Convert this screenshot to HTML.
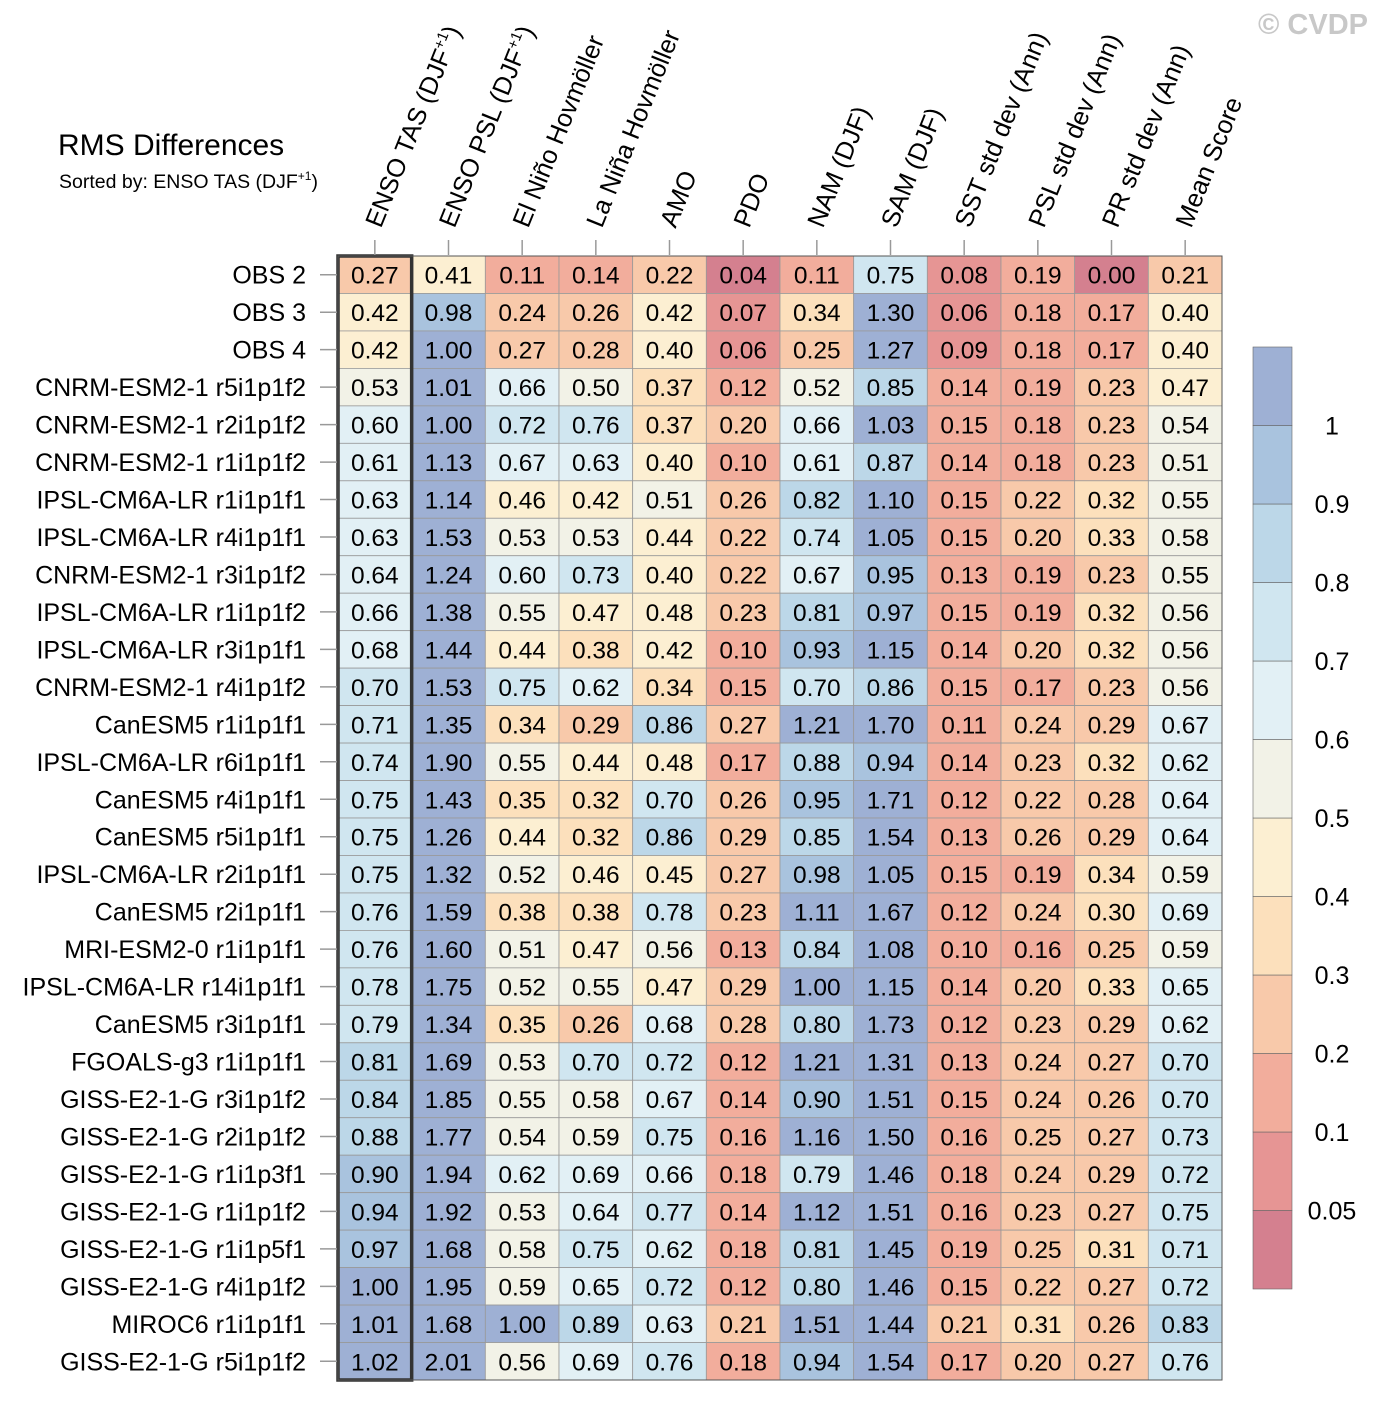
<!DOCTYPE html>
<html><head><meta charset="utf-8"><style>
body{margin:0;background:#fff;}
svg{display:block;font-family:"Liberation Sans",Arial,sans-serif;}
</style></head><body>
<svg id="chart" width="1379" height="1401" viewBox="0 0 1379 1401" xmlns="http://www.w3.org/2000/svg">
<text x="1368" y="34" text-anchor="end" font-size="29" font-weight="bold" fill="#c8c8c8">© CVDP</text>
<text x="58" y="155" font-size="30" fill="#000">RMS Differences</text>
<text x="59" y="188" font-size="19.5" fill="#000">Sorted by: ENSO TAS (DJF<tspan font-size="12" dy="-8">+1</tspan><tspan dy="8">)</tspan></text>
<g id="cells"></g><g id="collabels"></g><g id="rowlabels"></g><g id="cbar"></g>
</svg>
<script>
const columns=["ENSO TAS (DJF+1)","ENSO PSL (DJF+1)","El Niño Hovmöller","La Niña Hovmöller","AMO","PDO","NAM (DJF)","SAM (DJF)","SST std dev (Ann)","PSL std dev (Ann)","PR std dev (Ann)","Mean Score"];
const rows=["OBS 2","OBS 3","OBS 4","CNRM-ESM2-1 r5i1p1f2","CNRM-ESM2-1 r2i1p1f2","CNRM-ESM2-1 r1i1p1f2","IPSL-CM6A-LR r1i1p1f1","IPSL-CM6A-LR r4i1p1f1","CNRM-ESM2-1 r3i1p1f2","IPSL-CM6A-LR r1i1p1f2","IPSL-CM6A-LR r3i1p1f1","CNRM-ESM2-1 r4i1p1f2","CanESM5 r1i1p1f1","IPSL-CM6A-LR r6i1p1f1","CanESM5 r4i1p1f1","CanESM5 r5i1p1f1","IPSL-CM6A-LR r2i1p1f1","CanESM5 r2i1p1f1","MRI-ESM2-0 r1i1p1f1","IPSL-CM6A-LR r14i1p1f1","CanESM5 r3i1p1f1","FGOALS-g3 r1i1p1f1","GISS-E2-1-G r3i1p1f2","GISS-E2-1-G r2i1p1f2","GISS-E2-1-G r1i1p3f1","GISS-E2-1-G r1i1p1f2","GISS-E2-1-G r1i1p5f1","GISS-E2-1-G r4i1p1f2","MIROC6 r1i1p1f1","GISS-E2-1-G r5i1p1f2"];
const values=[
[0.27,0.41,0.11,0.14,0.22,0.04,0.11,0.75,0.08,0.19,0.00,0.21],
[0.42,0.98,0.24,0.26,0.42,0.07,0.34,1.30,0.06,0.18,0.17,0.40],
[0.42,1.00,0.27,0.28,0.40,0.06,0.25,1.27,0.09,0.18,0.17,0.40],
[0.53,1.01,0.66,0.50,0.37,0.12,0.52,0.85,0.14,0.19,0.23,0.47],
[0.60,1.00,0.72,0.76,0.37,0.20,0.66,1.03,0.15,0.18,0.23,0.54],
[0.61,1.13,0.67,0.63,0.40,0.10,0.61,0.87,0.14,0.18,0.23,0.51],
[0.63,1.14,0.46,0.42,0.51,0.26,0.82,1.10,0.15,0.22,0.32,0.55],
[0.63,1.53,0.53,0.53,0.44,0.22,0.74,1.05,0.15,0.20,0.33,0.58],
[0.64,1.24,0.60,0.73,0.40,0.22,0.67,0.95,0.13,0.19,0.23,0.55],
[0.66,1.38,0.55,0.47,0.48,0.23,0.81,0.97,0.15,0.19,0.32,0.56],
[0.68,1.44,0.44,0.38,0.42,0.10,0.93,1.15,0.14,0.20,0.32,0.56],
[0.70,1.53,0.75,0.62,0.34,0.15,0.70,0.86,0.15,0.17,0.23,0.56],
[0.71,1.35,0.34,0.29,0.86,0.27,1.21,1.70,0.11,0.24,0.29,0.67],
[0.74,1.90,0.55,0.44,0.48,0.17,0.88,0.94,0.14,0.23,0.32,0.62],
[0.75,1.43,0.35,0.32,0.70,0.26,0.95,1.71,0.12,0.22,0.28,0.64],
[0.75,1.26,0.44,0.32,0.86,0.29,0.85,1.54,0.13,0.26,0.29,0.64],
[0.75,1.32,0.52,0.46,0.45,0.27,0.98,1.05,0.15,0.19,0.34,0.59],
[0.76,1.59,0.38,0.38,0.78,0.23,1.11,1.67,0.12,0.24,0.30,0.69],
[0.76,1.60,0.51,0.47,0.56,0.13,0.84,1.08,0.10,0.16,0.25,0.59],
[0.78,1.75,0.52,0.55,0.47,0.29,1.00,1.15,0.14,0.20,0.33,0.65],
[0.79,1.34,0.35,0.26,0.68,0.28,0.80,1.73,0.12,0.23,0.29,0.62],
[0.81,1.69,0.53,0.70,0.72,0.12,1.21,1.31,0.13,0.24,0.27,0.70],
[0.84,1.85,0.55,0.58,0.67,0.14,0.90,1.51,0.15,0.24,0.26,0.70],
[0.88,1.77,0.54,0.59,0.75,0.16,1.16,1.50,0.16,0.25,0.27,0.73],
[0.90,1.94,0.62,0.69,0.66,0.18,0.79,1.46,0.18,0.24,0.29,0.72],
[0.94,1.92,0.53,0.64,0.77,0.14,1.12,1.51,0.16,0.23,0.27,0.75],
[0.97,1.68,0.58,0.75,0.62,0.18,0.81,1.45,0.19,0.25,0.31,0.71],
[1.00,1.95,0.59,0.65,0.72,0.12,0.80,1.46,0.15,0.22,0.27,0.72],
[1.01,1.68,1.00,0.89,0.63,0.21,1.51,1.44,0.21,0.31,0.26,0.83],
[1.02,2.01,0.56,0.69,0.76,0.18,0.94,1.54,0.17,0.20,0.27,0.76]];
const levels=[0.05,0.1,0.2,0.3,0.4,0.5,0.6,0.7,0.8,0.9,1];
const levelLabels=["0.05","0.1","0.2","0.3","0.4","0.5","0.6","0.7","0.8","0.9","1"];
const palette=["#d4808f","#e69594","#f2ad9c","#f8c9aa","#fce0bc","#fcefd2","#f2f2e7","#e2f0f5","#d0e6f0","#bcd7e8","#a9c3de","#9eb0d4"];
const NS="http://www.w3.org/2000/svg";
const X0=338,X1=1222,Y0=256,Y1=1380;
const cw=(X1-X0)/columns.length, rh=(Y1-Y0)/rows.length;
const xPos=i=>X0+i*cw, yPos=j=>Y0+j*rh;
function colorFor(v){let b=0;for(const l of levels){if(v>=l-1e-9)b++;}return palette[b];}
function mk(tag,attrs,parent){const e=document.createElementNS(NS,tag);for(const k in attrs)e.setAttribute(k,attrs[k]);parent.appendChild(e);return e;}
const cells=document.getElementById('cells');
values.forEach((row,j)=>row.forEach((v,i)=>{
  const r=mk('rect',{x:xPos(i),y:yPos(j),width:cw,height:rh,fill:colorFor(v),stroke:'#999','stroke-width':0.8},cells);
  
  
  const t=mk('text',{x:xPos(i)+cw/2,y:yPos(j)+rh/2+9,'text-anchor':'middle','font-size':24.5,fill:'#000'},cells);
  t.textContent=v.toFixed(2);
  
  
}));
const border=mk('rect',{x:X0,y:Y0,width:cw,height:Y1-Y0,fill:'none',stroke:'#333','stroke-width':3.5},cells);


const ob=mk('rect',{x:X0,y:Y0,width:X1-X0,height:Y1-Y0,fill:'none',stroke:'#555','stroke-width':1},cells);


const cl=document.getElementById('collabels');
columns.forEach((c,i)=>{
  const cx=xPos(i)+cw/2;
  const tk=mk('line',{x1:cx,y1:240,x2:cx,y2:255,stroke:'#999','stroke-width':1.5},cl);
  
  
  const t=mk('text',{transform:`translate(${cx+6},229) rotate(-68)`,'font-size':25.5,fill:'#000'},cl);
  
  
  if(c.endsWith('(DJF+1)')){
    t.appendChild(document.createTextNode(c.replace('(DJF+1)','(DJF')));
    const s=mk('tspan',{'font-size':15,dy:-10},t);s.textContent='+1';
    const s2=mk('tspan',{dy:10},t);s2.textContent=')';
  } else t.textContent=c;
});
const rl=document.getElementById('rowlabels');
rows.forEach((r,j)=>{
  const cy=yPos(j)+rh/2;
  const tk=mk('line',{x1:320,y1:cy,x2:337,y2:cy,stroke:'#999','stroke-width':1.5},rl);
  
  
  const t=mk('text',{x:306,y:cy+9,'text-anchor':'end','font-size':25,fill:'#000'},rl);
  t.textContent=r;
  
  
});
const cb=document.getElementById('cbar');
const CBX=1253,CBW=39,CBT=347,CBB=1289,nb=palette.length,bh=(CBB-CBT)/nb;
palette.forEach((p,k)=>{
  const y=CBB-(k+1)*bh;
  const r=mk('rect',{x:CBX,y:y,width:CBW,height:bh,fill:p,stroke:'#666','stroke-width':0.6},cb);
  
  
});
levelLabels.forEach((l,k)=>{
  const y=CBB-(k+1)*bh;
  const t=mk('text',{x:1332,y:y+9,'text-anchor':'middle','font-size':25,fill:'#000'},cb);
  t.textContent=l;
  
  
});
</script>
</body></html>
